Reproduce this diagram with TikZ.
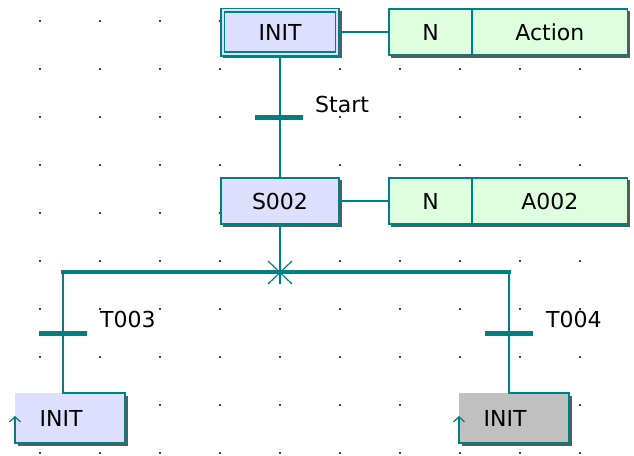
\documentclass[tikz,border=0pt]{standalone}
\usepackage{fontspec}
\setmainfont{DejaVu Sans}
\usetikzlibrary{arrows.meta, positioning, calc, shadows}

\definecolor{sfcline}{RGB}{0,128,128}
\definecolor{stepfill}{RGB}{222,222,255}
\definecolor{actfill}{RGB}{222,255,222}
\definecolor{jumpfill}{RGB}{192,192,192}
\definecolor{shadowgray}{RGB}{90,90,90}
\definecolor{dotgray}{RGB}{60,60,60}

\begin{document}
\begin{tikzpicture}[
    x=1pt, y=-1pt,
    % Define styles for steps, actions and transitions
    sfc_shadow/.style={drop shadow={shadow xshift=2.5pt, shadow yshift=-2.5pt, fill=shadowgray, opacity=1}},
    step_node/.style={rectangle, draw=sfcline, line width=1.6pt, fill=stepfill, minimum width=118.4pt, minimum height=46.4pt, outer sep=0pt, font=\fontsize{22}{26}\selectfont, sfc_shadow},
    act_node/.style={rectangle, draw=sfcline, line width=1.6pt, fill=actfill, minimum height=46.4pt, outer sep=0pt, font=\fontsize{22}{26}\selectfont, sfc_shadow},
    bar_node/.style={rectangle, fill=sfcline, minimum width=48pt, minimum height=5pt, inner sep=0pt, outer sep=0pt},
    jump_node/.style={rectangle, fill=stepfill, minimum width=110pt, minimum height=50pt, outer sep=0pt, sfc_shadow},
    link/.style={draw=sfcline, line width=1.6pt},
    jump_tip/.style={-{Straight Barb[length=5pt,width=11pt,line width=1.3pt]}},
    lbl/.style={font=\fontsize{22}{26}\selectfont, inner sep=0pt}
]
    \useasboundingbox (0,0) rectangle (634,455);

    % --- Background grid ---
    \foreach \gx in {40,100,...,580}
        \foreach \gy in {21,69,...,453}
            \fill[dotgray] (\gx-1,\gy-1) rectangle ++(2,2);

    % --- Initial step (double frame) and its action ---
    \node[step_node, minimum height=47.4pt] (init) at (280,32) {INIT};
    \draw[sfcline, line width=1.4pt] ($(init.south west)+(3.6,-3.6)$) rectangle ($(init.north east)+(-3.6,3.6)$);
    \node[act_node, minimum width=83.4pt] (q1) at (430.5,32) {N};
    \node[act_node, minimum width=155.4pt, anchor=west] (a1) at (q1.east) {Action};

    % --- Transition Start ---
    \node[bar_node] (t1) at (279,117) {};
    \node[lbl, anchor=west] (t1_lbl) at ($(t1.east)+(12,-13)$) {Start};

    % --- Step S002 and its action ---
    \node[step_node] (s2) at (280,201) {S002};
    \node[act_node, minimum width=83.4pt] (q2) at (430.5,201) {N};
    \node[act_node, minimum width=155.4pt, anchor=west] (a2) at (q2.east) {A002};

    % --- Divergence ---
    \coordinate (dm) at (280,272);
    \coordinate (dl) at (61,272);
    \coordinate (dr) at (511,272);

    % --- Branch transitions ---
    \node[bar_node] (t3) at (63,333) {};
    \node[lbl, anchor=west] (t3_lbl) at ($(t3.east)+(13,-14)$) {T003};
    \node[bar_node] (t4) at (509,333) {};
    \node[lbl, anchor=west] (t4_lbl) at ($(t4.east)+(13,-14)$) {T004};

    % --- Jumps back to INIT ---
    \node[jump_node] (j1) at (70,418) {};
    \node[lbl] (j1_lbl) at ($(j1)+(-9,0)$) {INIT};
    \node[jump_node, fill=jumpfill] (j2) at (514,418) {};
    \node[lbl] (j2_lbl) at ($(j2)+(-9,0)$) {INIT};

    % --- Links ---
    \draw[link] (init) -- (q1);
    \draw[link] (s2) -- (q2);
    \draw[link] (init) -- (s2);
    \draw[link] (s2) -- ($(dm)+(0,12)$);
    \draw[sfcline, line width=4pt] (dl) -- (dr);
    \draw[sfcline, line width=1.2pt] ($(dm)+(-12,-11)$) -- ($(dm)+(12,12)$);
    \draw[sfcline, line width=1.2pt] ($(dm)+(12,-11)$) -- ($(dm)+(-12,12)$);

    % branch lines run into the jump frames and end in the jump arrow
    \draw[link, jump_tip] (t3 |- dl) -- (t3 |- j1.north) -- (j1.north east) -- (j1.south east) -- (j1.south west) -- ($(j1.south west)+(0,-27)$);
    \draw[link, jump_tip] (t4 |- dr) -- (t4 |- j2.north) -- (j2.north east) -- (j2.south east) -- (j2.south west) -- ($(j2.south west)+(0,-27)$);

\end{tikzpicture}
\end{document}
